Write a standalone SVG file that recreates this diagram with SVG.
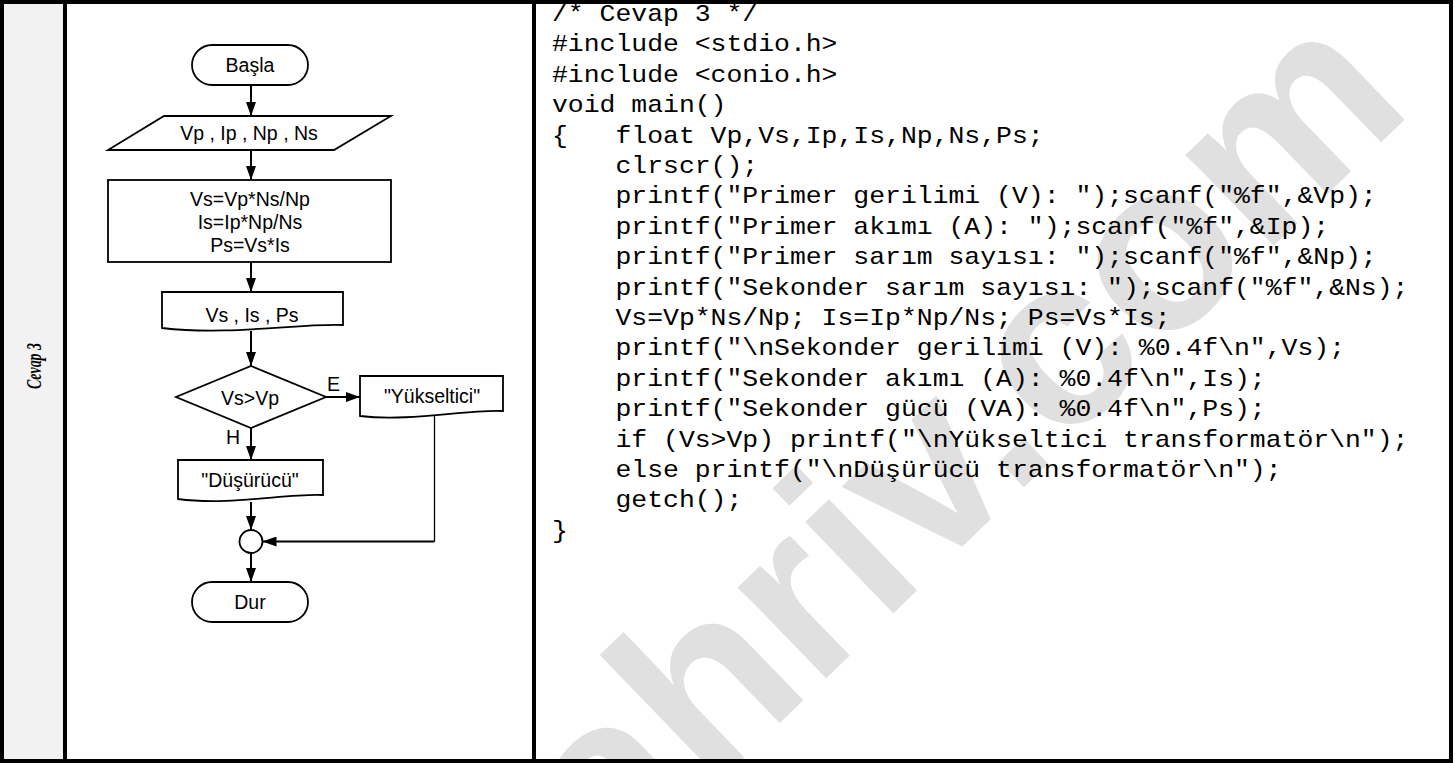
<svg xmlns="http://www.w3.org/2000/svg" width="1455" height="763" viewBox="0 0 1455 763">
<defs>
<style>
.fc{font-family:"Liberation Sans",Arial,sans-serif;font-size:19.5px;fill:#000;text-anchor:middle}
.lbl{font-family:"Liberation Sans",Arial,sans-serif;font-size:19.5px;fill:#000}
.shape{fill:#fff;stroke:#000;stroke-width:1.8}
.conn{fill:none;stroke:#000;stroke-width:2}
.code{font-family:"Liberation Mono","Courier New",monospace;font-size:23px;fill:#000;white-space:pre}
.wm{font-family:"Liberation Sans",Arial,sans-serif;font-weight:bold;font-size:240px;fill:#e0e0e0}
.border{fill:none;stroke:#000;stroke-width:4}
</style>
<marker id="ah" markerWidth="14" markerHeight="10" refX="14" refY="5" orient="auto" markerUnits="userSpaceOnUse">
<path d="M0,0 L14,5 L0,10 Z" fill="#000"/>
</marker>
</defs>
<rect x="0" y="0" width="1455" height="763" fill="#fff"/>
<rect x="2" y="2" width="63" height="759" fill="#f2f2f2"/>
<text class="wm" transform="translate(555,940) rotate(-44)">fahriv.com</text>

<g id="table">
<rect class="border" x="2" y="2" width="1449" height="759"/>
<line class="border" x1="65" y1="2" x2="65" y2="761"/>
<line class="border" x1="534" y1="2" x2="534" y2="761"/>
</g>

<g id="side-label">
<text transform="translate(41,366) rotate(-90)" font-family="'Liberation Serif',serif" font-style="italic" font-weight="bold" font-size="21" text-anchor="middle" textLength="46" lengthAdjust="spacingAndGlyphs">Cevap 3</text>
</g>

<g id="connectors">
<line class="conn" x1="251" y1="85" x2="251" y2="116" marker-end="url(#ah)"/>
<line class="conn" x1="251" y1="150" x2="251" y2="180" marker-end="url(#ah)"/>
<line class="conn" x1="251" y1="262" x2="251" y2="292" marker-end="url(#ah)"/>
<line class="conn" x1="251" y1="331" x2="251" y2="366" marker-end="url(#ah)"/>
<line class="conn" x1="326" y1="397" x2="360" y2="397" marker-end="url(#ah)"/>
<line class="conn" x1="251" y1="428" x2="251" y2="460" marker-end="url(#ah)"/>
<line class="conn" x1="251" y1="502" x2="251" y2="530" marker-end="url(#ah)"/>
<line class="conn" x1="251" y1="553" x2="251" y2="582" marker-end="url(#ah)"/>
<path d="M434.5,416 V541.5" fill="none" stroke="#000" stroke-width="1.3"/>
<line class="conn" x1="434.5" y1="541.5" x2="262.5" y2="541.5" marker-end="url(#ah)"/>
<text class="lbl" x="327" y="391">E</text>
<text class="lbl" x="226" y="444">H</text>
</g>

<g id="node-start">
<rect class="shape" x="192" y="45" width="116" height="40" rx="20" ry="20"/>
<text class="fc" x="250" y="72">Başla</text>
</g>
<g id="node-input">
<polygon class="shape" points="164,116 391,116 334,150 108,150"/>
<text class="fc" x="249" y="140">Vp , Ip , Np , Ns</text>
</g>
<g id="node-process">
<rect class="shape" x="108" y="180" width="283" height="82"/>
<text class="fc" x="250" y="206">Vs=Vp*Ns/Np</text>
<text class="fc" x="250" y="229">Is=Ip*Np/Ns</text>
<text class="fc" x="250" y="252">Ps=Vs*Is</text>
</g>
<g id="node-output">
<path class="shape" d="M162,292 H343 V325 C300,323 230,336 162,328 Z"/>
<text class="fc" x="252" y="322">Vs , Is , Ps</text>
</g>
<g id="node-decision">
<polygon class="shape" points="251,366 326,397 251,428 176,397"/>
<text class="fc" x="250" y="405">Vs&gt;Vp</text>
</g>
<g id="node-yukseltici">
<path class="shape" d="M360,376 H503 V411 C468,409 410,422 360,416 Z"/>
<text class="fc" x="432" y="403">"Yükseltici"</text>
</g>
<g id="node-dusurucu">
<path class="shape" d="M178,460 H323 V495 C288,493 230,506 178,499 Z"/>
<text class="fc" x="250" y="487">"Düşürücü"</text>
</g>
<g id="node-join">
<circle class="shape" cx="251" cy="541.5" r="11.5"/>
</g>
<g id="node-end">
<rect class="shape" x="192" y="582" width="116" height="40" rx="20" ry="20"/>
<text class="fc" x="250" y="609">Dur</text>
</g>

<g id="code" transform="translate(552,0) scale(1.15,1)">
<text class="code" x="0" y="21">/* Cevap 3 */</text>
<text class="code" x="0" y="51.4">#include &lt;stdio.h&gt;</text>
<text class="code" x="0" y="81.8">#include &lt;conio.h&gt;</text>
<text class="code" x="0" y="112.2">void main()</text>
<text class="code" x="0" y="142.6">{   float Vp,Vs,Ip,Is,Np,Ns,Ps;</text>
<text class="code" x="0" y="173">    clrscr();</text>
<text class="code" x="0" y="203.4">    printf("Primer gerilimi (V): ");scanf("%f",&amp;Vp);</text>
<text class="code" x="0" y="233.8">    printf("Primer akımı (A): ");scanf("%f",&amp;Ip);</text>
<text class="code" x="0" y="264.2">    printf("Primer sarım sayısı: ");scanf("%f",&amp;Np);</text>
<text class="code" x="0" y="294.6">    printf("Sekonder sarım sayısı: ");scanf("%f",&amp;Ns);</text>
<text class="code" x="0" y="325">    Vs=Vp*Ns/Np; Is=Ip*Np/Ns; Ps=Vs*Is;</text>
<text class="code" x="0" y="355.4">    printf("\nSekonder gerilimi (V): %0.4f\n",Vs);</text>
<text class="code" x="0" y="385.8">    printf("Sekonder akımı (A): %0.4f\n",Is);</text>
<text class="code" x="0" y="416.2">    printf("Sekonder gücü (VA): %0.4f\n",Ps);</text>
<text class="code" x="0" y="446.6">    if (Vs&gt;Vp) printf("\nYükseltici transformatör\n");</text>
<text class="code" x="0" y="477">    else printf("\nDüşürücü transformatör\n");</text>
<text class="code" x="0" y="507.4">    getch();</text>
<text class="code" x="0" y="537.8">}</text>
</g>
</svg>
